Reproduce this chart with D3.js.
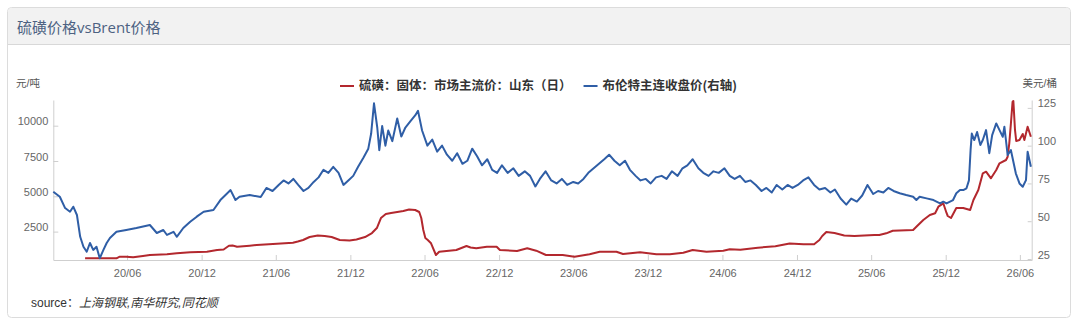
<!DOCTYPE html>
<html>
<head>
<meta charset="utf-8">
<script src="https://cdn.jsdelivr.net/npm/d3@7"></script>
<style>
body { margin: 0; background: #fff; }
svg { display: block; font-family: "Liberation Sans", "Noto Sans CJK SC", sans-serif; }
</style>
</head>
<body>
<svg id="chart" width="1080" height="327"></svg>
<script>
// Brent front-month close (right axis, USD/bbl)
const brentDates = [
  "2019-12-03","2019-12-19","2020-01-01","2020-01-13","2020-01-21","2020-01-30","2020-02-07","2020-02-15",
  "2020-02-23","2020-03-02","2020-03-10","2020-03-18","2020-03-26","2020-04-04","2020-04-12","2020-04-20",
  "2020-05-06","2020-05-30","2020-06-24","2020-07-27","2020-08-13","2020-08-29","2020-09-07","2020-09-23",
  "2020-10-01","2020-10-17","2020-11-03","2020-11-19","2020-12-06","2020-12-30","2021-01-16","2021-02-02",
  "2021-02-10","2021-02-22","2021-03-04","2021-03-29","2021-04-25","2021-05-09","2021-05-24","2021-06-08",
  "2021-06-20","2021-07-02","2021-07-14","2021-07-26","2021-08-08","2021-08-20","2021-09-02","2021-09-14",
  "2021-09-26","2021-10-08","2021-10-20","2021-11-02","2021-11-14","2021-11-26","2021-12-08","2021-12-20",
  "2022-01-02","2022-01-14","2022-01-21","2022-01-28","2022-02-05","2022-02-10","2022-02-17","2022-02-25",
  "2022-03-04","2022-03-14","2022-03-26","2022-04-05","2022-04-15","2022-04-27","2022-05-09","2022-05-16",
  "2022-05-26","2022-06-08","2022-06-20","2022-07-02","2022-07-14","2022-07-26","2022-08-08","2022-08-20",
  "2022-09-02","2022-09-14","2022-09-26","2022-10-08","2022-10-20","2022-11-02","2022-11-14","2022-11-26",
  "2022-12-08","2022-12-22","2023-01-05","2023-01-18","2023-02-02","2023-02-15","2023-02-28","2023-03-11",
  "2023-03-25","2023-04-08","2023-04-21","2023-05-04","2023-05-17","2023-06-01","2023-06-13","2023-06-26",
  "2023-07-08","2023-07-21","2023-08-03","2023-08-16","2023-08-28","2023-09-10","2023-09-23","2023-10-06",
  "2023-10-18","2023-11-01","2023-11-13","2023-11-26","2023-12-08","2023-12-21","2024-01-04","2024-01-16",
  "2024-01-29","2024-02-12","2024-02-24","2024-03-07","2024-03-20","2024-04-03","2024-04-15","2024-04-28",
  "2024-05-10","2024-05-23","2024-06-06","2024-06-19","2024-07-01","2024-07-14","2024-07-27","2024-08-09",
  "2024-08-22","2024-09-05","2024-09-17","2024-09-30","2024-10-12","2024-10-26","2024-11-08","2024-11-20",
  "2024-12-03","2024-12-16","2024-12-29","2025-01-12","2025-01-25","2025-02-08","2025-02-21","2025-03-04",
  "2025-03-18","2025-04-01","2025-04-13","2025-04-27","2025-05-10","2025-05-23","2025-06-06","2025-06-18",
  "2025-07-01","2025-07-13","2025-07-26","2025-08-10","2025-08-26","2025-09-12","2025-09-20","2025-09-28",
  "2025-10-15","2025-11-01","2025-11-17","2025-11-25","2025-12-03","2025-12-19","2025-12-27","2026-01-05",
  "2026-01-13","2026-01-21","2026-01-27","2026-01-31","2026-02-03","2026-02-09","2026-02-16","2026-02-24",
  "2026-03-02","2026-03-10","2026-03-18","2026-03-25","2026-04-04","2026-04-12","2026-04-20","2026-04-24",
  "2026-05-02","2026-05-10","2026-05-22","2026-05-31","2026-06-08","2026-06-16","2026-06-20","2026-06-28"
];
const brentValues = [
  69.5, 66.2, 58.7, 56.3, 59.6, 54.1, 39.7, 33.1,
  29.8, 35.6, 31.0, 33.1, 25.5, 31.0, 35.6, 38.9,
  43.0, 44.2, 45.5, 47.5, 42.2, 44.2, 40.9, 43.0,
  39.7, 45.5, 49.7, 53.0, 56.3, 57.4, 64.0, 68.5,
  70.6, 64.0, 66.2, 67.3, 66, 72, 70, 74,
  77, 75, 78, 74, 70, 72, 76, 79,
  84, 82, 86, 82, 74, 77, 80, 86,
  92, 98, 108, 128, 112, 97, 113, 100,
  110, 103, 118, 106, 112, 116, 120, 123,
  110, 100, 104, 96, 100, 94, 90, 95,
  88, 90, 98, 93, 87, 91, 84, 82,
  87, 82, 85, 80, 83, 80, 73, 78,
  83, 77, 75, 78, 74, 76, 75, 78,
  82, 85, 88, 91, 94, 90, 87, 90,
  84, 80, 77, 78, 75, 79, 80, 78,
  83, 80, 85, 87, 91, 85, 82, 80,
  83, 82, 85, 80, 78, 80, 76, 77,
  74, 70, 72, 69, 74, 71, 74, 72,
  74, 77, 79, 74, 71, 72, 69, 71,
  65, 61, 65, 63, 67, 74, 68, 70,
  69, 72, 70, 68.5, 67.3, 66.2, 64, 66.2,
  65.1, 64, 61.8, 62.9, 61.8, 64, 68.5, 70.6,
  70.6, 71.8, 77, 97, 108, 103.7, 109, 100.4,
  103.7, 110.3, 95, 107, 114.7, 110.3, 105.9, 112.5,
  93.8, 97, 81.7, 75, 72.8, 77.2, 96, 86
];

// Sulfur, solid, Shandong mainstream price (left axis, CNY/t)
const sulfurDates = [
  "2020-02-19","2020-05-06","2020-05-14","2020-05-30","2020-06-16","2020-07-10","2020-07-27","2020-09-07",
  "2020-10-01","2020-11-03","2020-12-14","2021-01-08","2021-01-24","2021-02-06","2021-02-15","2021-02-26",
  "2021-03-29","2021-04-15","2021-05-25","2021-07-13","2021-07-25","2021-08-07","2021-08-23","2021-09-12",
  "2021-09-29","2021-10-16","2021-11-05","2021-11-29","2021-12-16","2022-01-06","2022-01-23","2022-02-04",
  "2022-02-14","2022-02-26","2022-03-11","2022-03-26","2022-04-10","2022-04-24","2022-05-09","2022-05-19",
  "2022-05-24","2022-05-29","2022-06-03","2022-06-09","2022-06-17","2022-06-29","2022-07-07","2022-08-18",
  "2022-09-12","2022-09-22","2022-10-06","2022-11-01","2022-11-25","2022-12-03","2023-01-14","2023-02-08",
  "2023-03-02","2023-03-26","2023-05-06","2023-06-04","2023-07-11","2023-08-05","2023-09-15","2023-10-01",
  "2023-11-12","2023-12-22","2024-01-24","2024-02-26","2024-03-20","2024-04-23","2024-06-03","2024-06-19",
  "2024-07-15","2024-08-27","2024-10-09","2024-11-13","2024-12-17","2025-01-12","2025-01-25","2025-02-01",
  "2025-02-11","2025-03-03","2025-03-27","2025-04-21","2025-05-15","2025-06-09","2025-06-21","2025-07-08",
  "2025-07-24","2025-09-12","2025-09-20","2025-10-07","2025-10-23","2025-11-05","2025-11-13","2025-11-25",
  "2025-12-03","2025-12-06","2025-12-14","2025-12-27","2026-01-13","2026-01-30","2026-02-07","2026-02-19",
  "2026-03-02","2026-03-10","2026-03-22","2026-04-04","2026-04-12","2026-04-28","2026-05-02","2026-05-06",
  "2026-05-10","2026-05-14","2026-05-16","2026-05-20","2026-05-23","2026-05-31","2026-06-08","2026-06-12",
  "2026-06-20","2026-06-28"
];
const sulfurValues = [
  609, 609, 722, 722, 680, 772, 843, 893,
  963, 1034, 1077, 1197, 1233, 1502, 1516, 1431,
  1502, 1551, 1622, 1714, 1800, 1905, 2117, 2223,
  2188, 2117, 1905, 1870, 1940, 2117, 2400, 2755,
  3463, 3747, 3818, 3888, 3960, 4065, 4030, 3888,
  3463, 2613, 2047, 1905, 1670, 843, 1077, 1197,
  1480, 1374, 1318, 1431, 1431, 1197, 1126, 1318,
  1148, 843, 843, 722, 893, 1077, 1077, 914,
  1034, 893, 893, 1006, 1197, 1077, 1148, 1247,
  1212, 1360, 1459, 1657, 1608, 1608, 1905, 2188,
  2471, 2400, 2223, 2188, 2223, 2259, 2259, 2379,
  2563, 2613, 2846, 3322, 3676, 3796, 4264, 4504,
  3818, 3605, 3464, 4172, 4172, 4030, 4738, 5446,
  6629, 6742, 6275, 6863, 7337, 7571, 7805, 8754,
  10170, 11680, 11750, 9700, 8916, 8987, 9412, 8987,
  9929, 9221
];

const xTickDates = ["2020-06-01","2020-12-01","2021-06-01","2021-12-01","2022-06-01","2022-12-01",
  "2023-06-01","2023-12-01","2024-06-01","2024-12-01","2025-06-01","2025-12-01","2026-06-01"];
const leftTicks = [2500, 5000, 7500, 10000];
const rightTicks = [25, 50, 75, 100, 125];
const seriesNames = ["硫磺：固体：市场主流价：山东（日）", "布伦特主连收盘价(右轴)"];
const seriesColors = ["#b3282e", "#2f5ea6"];

const W = 1080, H = 327;
const margin = {top: 100, right: 48.3, bottom: 67, left: 53.3};
const innerW = W - margin.left - margin.right;
const innerH = H - margin.top - margin.bottom;
const parse = d3.timeParse("%Y-%m-%d");

const svg = d3.select("#chart");

// panel + header
svg.append("rect")
    .attr("x", 7.5).attr("y", 7.5)
    .attr("width", 1063).attr("height", 310)
    .attr("rx", 4)
    .attr("fill", "#fff")
    .attr("stroke", "#dcdcdc");
svg.append("path")
    .attr("d", "M8,44 V12 Q8,8 12,8 H1066 Q1070,8 1070,12 V44 Z")
    .attr("fill", "#f2f2f2");
svg.append("line")
    .attr("x1", 8).attr("x2", 1070).attr("y1", 44.5).attr("y2", 44.5)
    .attr("stroke", "#d8d8d8");
svg.append("text")
    .attr("x", 17).attr("y", 33)
    .style("font-family", "'Open Sans','Noto Sans CJK SC',sans-serif")
    .style("font-size", "15px")
    .attr("fill", "#4d6282")
    .text("硫磺价格vsBrent价格");

const chart = svg.append("g")
    .attr("transform", `translate(${margin.left}, ${margin.top})`);

const x = d3.scaleTime()
    .domain([parse("2019-12-03"), parse("2026-06-30")])
    .range([0, innerW]);
const yLeft = d3.scaleLinear().domain([489, 11820]).range([innerH, 0]);
const yRight = d3.scaleLinear().domain([24.34, 130.2]).range([innerH, 0]);

const xAxis = d3.axisBottom(x)
    .tickValues(xTickDates.map(parse))
    .tickFormat(d3.timeFormat("%y/%m"))
    .tickSizeInner(-5)
    .tickSizeOuter(0)
    .tickPadding(9);
const leftAxis = d3.axisLeft(yLeft)
    .tickValues(leftTicks)
    .tickFormat(d3.format("d"))
    .tickSizeInner(-5)
    .tickSizeOuter(0)
    .tickPadding(5);
const rightAxis = d3.axisRight(yRight)
    .tickValues(rightTicks)
    .tickFormat(d3.format("d"))
    .tickSizeInner(-4)
    .tickSizeOuter(0)
    .tickPadding(6);

function styleAxis(g) {
    g.select(".domain").attr("stroke", "#cfcfcf");
    g.selectAll(".tick line").attr("stroke", "#cfcfcf");
    g.selectAll(".tick text")
        .attr("fill", "#666")
        .style("font-size", "11px")
        .style("font-family", "'Liberation Sans',sans-serif");
}

chart.append("g")
    .attr("transform", `translate(0, ${innerH})`)
    .call(xAxis)
    .call(styleAxis);
chart.append("g")
    .call(leftAxis)
    .call(styleAxis)
    .selectAll(".tick text").attr("y", -4.5);
chart.append("g")
    .attr("transform", `translate(${innerW}, 0)`)
    .call(rightAxis)
    .call(styleAxis)
    .selectAll(".tick text").attr("y", -4.5);

// unit labels
svg.append("text")
    .attr("x", 16).attr("y", 87)
    .attr("fill", "#555")
    .style("font-size", "10.5px")
    .text("元/吨");
svg.append("text")
    .attr("x", 1057).attr("y", 87)
    .attr("text-anchor", "end")
    .attr("fill", "#555")
    .style("font-size", "10.5px")
    .text("美元/桶");

// series
const sulfur = sulfurDates.map((d, i) => ({date: parse(d), v: sulfurValues[i]}));
const brent = brentDates.map((d, i) => ({date: parse(d), v: brentValues[i]}));

const lineLeft = d3.line().x(d => x(d.date)).y(d => yLeft(d.v));
const lineRight = d3.line().x(d => x(d.date)).y(d => yRight(d.v));

chart.append("path")
    .datum(sulfur)
    .attr("fill", "none")
    .attr("stroke", seriesColors[0])
    .attr("stroke-width", 2)
    .attr("stroke-linejoin", "round")
    .attr("d", lineLeft);
chart.append("path")
    .datum(brent)
    .attr("fill", "none")
    .attr("stroke", seriesColors[1])
    .attr("stroke-width", 2)
    .attr("stroke-linejoin", "round")
    .attr("d", lineRight);

// legend, centred over the plot
const legend = svg.append("g").attr("transform", "translate(0, 86)");
const items = legend.selectAll("g")
    .data(seriesNames)
    .enter().append("g");
items.append("line")
    .attr("x1", 0).attr("x2", 14)
    .attr("stroke", (d, i) => seriesColors[i])
    .attr("stroke-width", 2);
items.append("text")
    .attr("x", 19).attr("dy", "0.35em")
    .attr("fill", "#333")
    .style("font-size", "12.5px")
    .style("font-weight", "bold")
    .style("font-family", "'Noto Sans CJK SC',sans-serif")
    .text(d => d);
let widths = [];
items.each(function () { widths.push(19 + this.querySelector("text").getComputedTextLength()); });
const gap = 12;
const total = d3.sum(widths) + gap * (widths.length - 1);
let cursor = 538.5 - total / 2;
items.attr("transform", (d, i) => {
    const t = `translate(${cursor}, 0)`;
    cursor += widths[i] + gap;
    return t;
});

// source line
const src = svg.append("text")
    .attr("x", 31).attr("y", 307)
    .attr("fill", "#333")
    .style("font-size", "12px");
src.append("tspan").text("source：");
src.append("tspan").style("font-style", "italic").text("上海钢联,南华研究,同花顺");
</script>
</body>
</html>
